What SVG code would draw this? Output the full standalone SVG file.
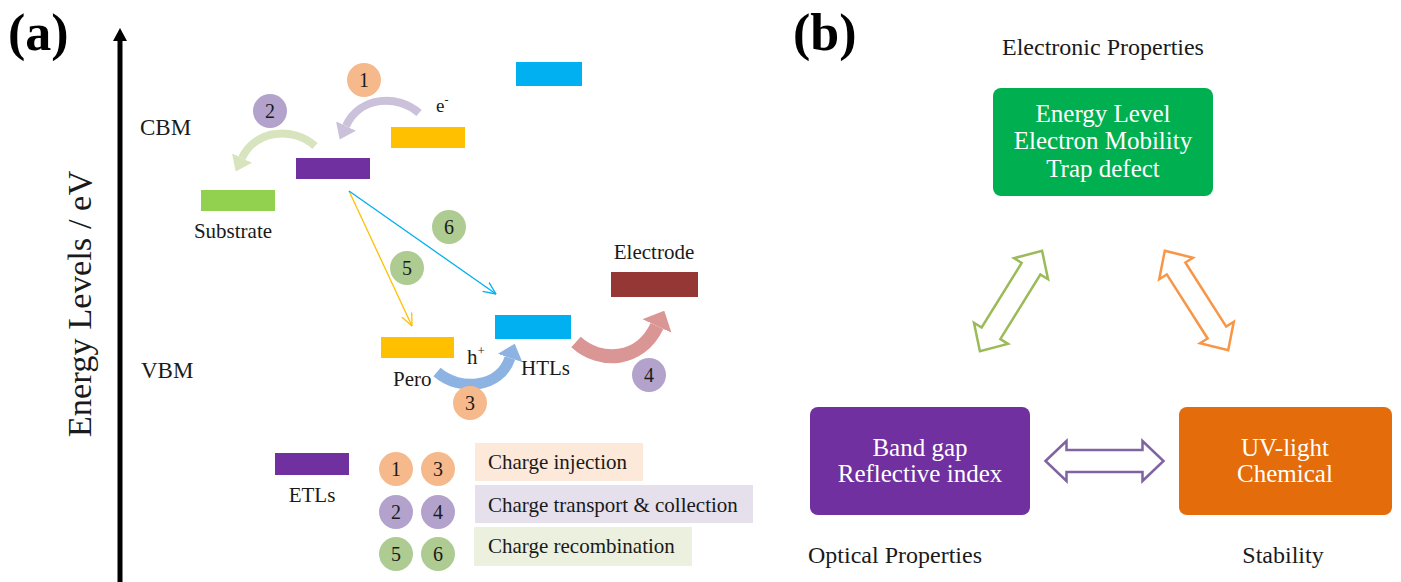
<svg xmlns="http://www.w3.org/2000/svg" width="1401" height="582" viewBox="0 0 1401 582" font-family="'Liberation Serif', 'DejaVu Serif', serif">
<style>
  text { font-family: 'Liberation Serif', 'DejaVu Serif', serif; fill: #1a1a1a; }
  .lbl { font-size: 21px; }
  .lvl { font-size: 23px; }
  .pnl { font-size: 52px; font-weight: bold; fill: #000; }
  .num { font-size: 20px; text-anchor: middle; }
  .box { font-size: 25px; fill: #fff; text-anchor: middle; }
  .cap { font-size: 24px; text-anchor: middle; }
  .co { fill: #f6b98b; }
  .cp { fill: #b2a2cc; }
  .cg { fill: #aecb92; }
  .dbl { fill: #fff; stroke-width: 2.5; stroke-linejoin: miter; }
</style>
<defs>
  <marker id="hLav" markerUnits="userSpaceOnUse" viewBox="0 0 15 22" refX="0" refY="11" markerWidth="15" markerHeight="22" orient="auto"><path d="M0,0 L15,11 L0,22 z" fill="#ccc1da"/></marker>
  <marker id="hGrn" markerUnits="userSpaceOnUse" viewBox="0 0 15 22" refX="0" refY="11" markerWidth="15" markerHeight="22" orient="auto"><path d="M0,0 L15,11 L0,22 z" fill="#d7e4bd"/></marker>
  <marker id="hBlu" markerUnits="userSpaceOnUse" viewBox="0 0 15 26" refX="0" refY="13" markerWidth="15" markerHeight="26" orient="auto"><path d="M0,0 L15,13 L0,26 z" fill="#8db3e2"/></marker>
  <marker id="hRos" markerUnits="userSpaceOnUse" viewBox="0 0 17 32" refX="0" refY="16" markerWidth="17" markerHeight="32" orient="auto"><path d="M0,0 L17,16 L0,32 z" fill="#d99694"/></marker>
  <marker id="vYel" markerUnits="userSpaceOnUse" viewBox="0 0 13 12" refX="12.5" refY="6" markerWidth="13" markerHeight="12" orient="auto"><path d="M0,0.5 L12.5,6 L0,11.5" fill="none" stroke="#ffc000" stroke-width="1.3"/></marker>
  <marker id="vBlu" markerUnits="userSpaceOnUse" viewBox="0 0 13 12" refX="12.5" refY="6" markerWidth="13" markerHeight="12" orient="auto"><path d="M0,0.5 L12.5,6 L0,11.5" fill="none" stroke="#00b0f0" stroke-width="1.3"/></marker>
  <polygon id="dblArrow" points="-59,0 -38,-20 -38,-11 38,-11 38,-20 59,0 38,20 38,11 -38,11 -38,20"/>
</defs>

<rect x="0" y="0" width="1401" height="582" fill="#fff"/>

<!-- Panel (a) -->
<text class="pnl" x="8" y="50">(a)</text>
<g id="axis">
  <line x1="120" y1="582" x2="120" y2="38" stroke="#000" stroke-width="5"/>
  <polygon points="120,28 113,41 127,41" fill="#000"/>
  <text transform="translate(91,304) rotate(-90)" text-anchor="middle" font-size="34.5">Energy Levels / eV</text>
</g>
<text class="lvl" x="140" y="135">CBM</text>
<text class="lvl" x="141" y="378">VBM</text>

<g id="substrate">
  <rect x="201" y="190" width="74" height="21" fill="#92d050"/>
  <text class="lbl" x="233" y="238" text-anchor="middle">Substrate</text>
</g>
<g id="etl-cbm"><rect x="296" y="158" width="74" height="21" fill="#7030a0"/></g>
<g id="pero-cbm">
  <rect x="391" y="127" width="74" height="21" fill="#ffc000"/>
  <text x="436" y="112" font-size="19">e<tspan font-size="12" dy="-8">-</tspan></text>
</g>
<g id="htl-cbm"><rect x="516" y="62" width="66" height="24" fill="#00b0f0"/></g>
<g id="pero-vbm">
  <rect x="381" y="337" width="73" height="21" fill="#ffc000"/>
  <text class="lbl" x="393" y="386">Pero</text>
  <text class="lbl" x="467" y="364">h<tspan font-size="13" dy="-9">+</tspan></text>
</g>
<g id="htl-vbm">
  <rect x="495" y="315" width="76" height="24" fill="#00b0f0"/>
  <text class="lbl" x="521" y="375">HTLs</text>
</g>
<g id="electrode">
  <rect x="611" y="272" width="87" height="25" fill="#953735"/>
  <text class="lbl" x="654" y="259" text-anchor="middle">Electrode</text>
</g>

<g id="connectors">
  <path d="M419,113 C398,94 360,96 346,126" fill="none" stroke="#ccc1da" stroke-width="8" marker-end="url(#hLav)"/>
  <path d="M315,146 C293,126 255,130 242,158" fill="none" stroke="#d7e4bd" stroke-width="8" marker-end="url(#hGrn)"/>
  <path d="M437,372 C460,392 500,388 510,358" fill="none" stroke="#8db3e2" stroke-width="11" marker-end="url(#hBlu)"/>
  <path d="M576,342 C600,364 640,362 657,326" fill="none" stroke="#d99694" stroke-width="14" marker-end="url(#hRos)"/>
  <line x1="349" y1="191" x2="412" y2="326" stroke="#ffc000" stroke-width="1.3" marker-end="url(#vYel)"/>
  <line x1="349" y1="191" x2="496" y2="294" stroke="#00b0f0" stroke-width="1.3" marker-end="url(#vBlu)"/>
  <use href="#dblArrow" transform="translate(1011,301) rotate(-58.2)" class="dbl" stroke="#9bbb59"/>
  <use href="#dblArrow" transform="translate(1196.5,300.5) rotate(57.5)" class="dbl" stroke="#f79646"/>
  <use href="#dblArrow" transform="translate(1104.5,461)" class="dbl" stroke="#8064a2"/>
</g>

<g id="step1"><circle class="co" cx="364" cy="80" r="17"/><text class="num" x="364" y="87">1</text></g>
<g id="step2"><circle class="cp" cx="270" cy="111" r="17"/><text class="num" x="270" y="118">2</text></g>
<g id="step3"><circle class="co" cx="470" cy="403" r="17"/><text class="num" x="470" y="410">3</text></g>
<g id="step4"><circle class="cp" cx="649" cy="375" r="17"/><text class="num" x="649" y="382">4</text></g>
<g id="step5"><circle class="cg" cx="407" cy="268" r="17"/><text class="num" x="407" y="275">5</text></g>
<g id="step6"><circle class="cg" cx="449" cy="227" r="17"/><text class="num" x="449" y="234">6</text></g>

<g id="legend">
  <rect x="275" y="453" width="74" height="22" fill="#7030a0"/>
  <text class="lbl" x="312" y="502" text-anchor="middle">ETLs</text>
  <circle class="co" cx="396" cy="469" r="17"/><text class="num" x="396" y="476">1</text>
  <circle class="co" cx="438" cy="469" r="17"/><text class="num" x="438" y="476">3</text>
  <circle class="cp" cx="396" cy="512" r="17"/><text class="num" x="396" y="519">2</text>
  <circle class="cp" cx="438" cy="512" r="17"/><text class="num" x="438" y="519">4</text>
  <circle class="cg" cx="396" cy="554" r="17"/><text class="num" x="396" y="561">5</text>
  <circle class="cg" cx="438" cy="554" r="17"/><text class="num" x="438" y="561">6</text>
  <rect x="475" y="443" width="168" height="38" fill="#fde9d9"/>
  <text class="lbl" x="488" y="469">Charge injection</text>
  <rect x="475" y="485" width="278" height="38" fill="#e5e0ec"/>
  <text class="lbl" x="488" y="512">Charge transport &amp; collection</text>
  <rect x="474" y="527" width="218" height="39" fill="#ebf1de"/>
  <text class="lbl" x="488" y="553">Charge recombination</text>
</g>

<!-- Panel (b) -->
<text class="pnl" x="793" y="50">(b)</text>
<g id="electronic">
  <text class="cap" x="1103" y="55">Electronic Properties</text>
  <rect x="993" y="88" width="220" height="108" rx="8" fill="#00b050"/>
  <text class="box" x="1103" y="122">Energy Level</text>
  <text class="box" x="1103" y="149">Electron Mobility</text>
  <text class="box" x="1103" y="177">Trap defect</text>
</g>
<g id="optical">
  <rect x="810" y="407" width="220" height="108" rx="8" fill="#7030a0"/>
  <text class="box" x="920" y="456">Band gap</text>
  <text class="box" x="920" y="482">Reflective index</text>
  <text class="cap" x="895" y="563">Optical Properties</text>
</g>
<g id="stability">
  <rect x="1179" y="407" width="213" height="108" rx="8" fill="#e46c0a"/>
  <text class="box" x="1285" y="456">UV-light</text>
  <text class="box" x="1285" y="482">Chemical</text>
  <text class="cap" x="1283" y="563">Stability</text>
</g>
</svg>
